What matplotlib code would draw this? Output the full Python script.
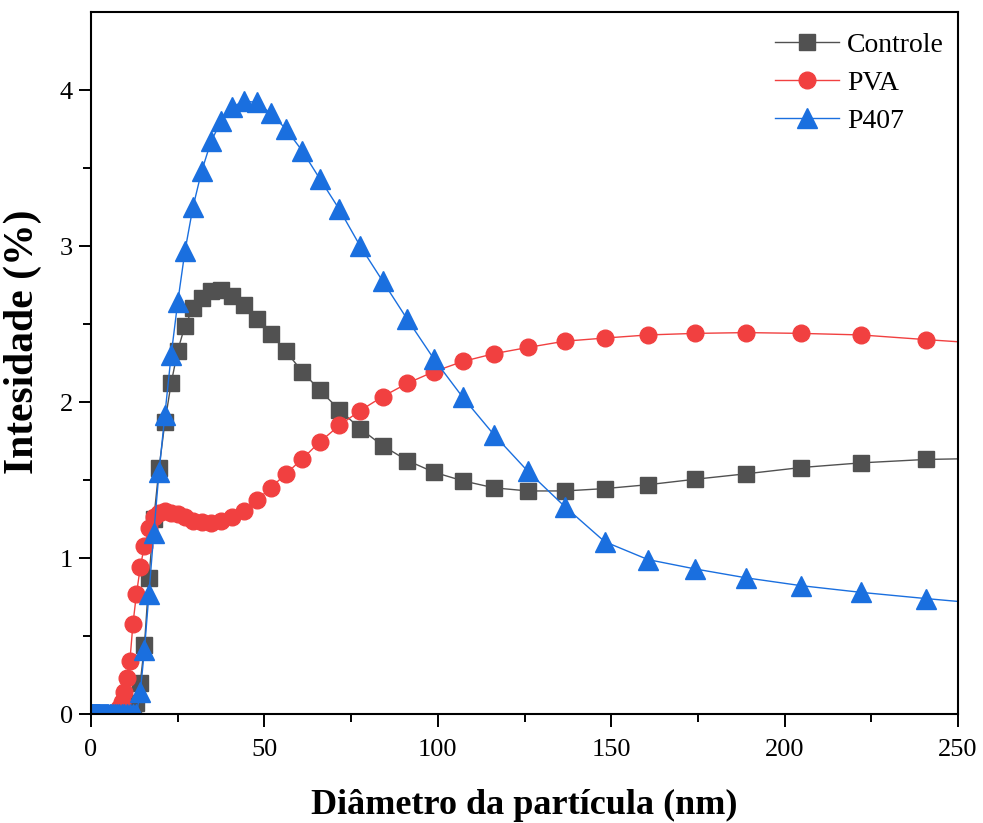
import numpy as np
import matplotlib
matplotlib.use('Agg')
import matplotlib.pyplot as plt

# particle diameter grid (nm), shared by the three samples
diam = [0.4, 0.43, 0.47, 0.51, 0.55, 0.6, 0.65, 0.71, 0.77, 0.83,
        0.9, 0.98, 1.06, 1.15, 1.25, 1.35, 1.5, 1.6, 1.75, 1.9,
        2.05, 2.2, 2.4, 2.6, 2.85, 3.1, 3.35, 3.6, 3.9, 4.25,
        4.6, 5.0, 5.4, 5.9, 6.4, 6.9, 7.5, 8.1, 8.8, 9.5,
        10.3, 11.2, 12.1, 13.1, 14.2, 15.4, 16.7, 18.1, 19.6, 21.3,
        23.1, 25.0, 27.1, 29.4, 31.9, 34.6, 37.5, 40.7, 44.1, 47.8,
        51.8, 56.2, 60.9, 66.0, 71.6, 77.6, 84.1, 91.2, 98.9, 107.2,
        116.2, 126.0, 136.6, 148.1, 160.6, 174.2, 188.9, 204.7, 222.0, 240.8,
        261.0]

controle = [0, 0, 0, 0, 0, 0, 0, 0, 0, 0,
            0, 0, 0, 0, 0, 0, 0, 0, 0, 0,
            0, 0, 0, 0, 0, 0, 0, 0, 0, 0,
            0, 0, 0, 0, 0, 0, 0, 0, 0, 0,
            0, 0, 0.01, 0.07, 0.20, 0.44, 0.87, 1.25, 1.575, 1.87,
            2.12, 2.33, 2.49, 2.60, 2.67, 2.71, 2.72, 2.68, 2.62, 2.535,
            2.435, 2.325, 2.195, 2.075, 1.95, 1.83, 1.72, 1.625, 1.55, 1.495,
            1.45, 1.43, 1.43, 1.445, 1.47, 1.505, 1.54, 1.58, 1.61, 1.632,
            1.64]

pva = [0, 0, 0, 0, 0, 0, 0, 0, 0, 0,
       0, 0, 0, 0, 0, 0, 0, 0, 0, 0,
       0, 0, 0, 0, 0, 0, 0, 0, 0, 0,
       0, 0, 0, 0, 0, 0, 0.01, 0.04, 0.08, 0.14,
       0.23, 0.34, 0.58, 0.77, 0.94, 1.08, 1.19, 1.26, 1.29, 1.30,
       1.29, 1.28, 1.26, 1.24, 1.23, 1.225, 1.24, 1.26, 1.30, 1.37,
       1.45, 1.54, 1.635, 1.745, 1.85, 1.945, 2.035, 2.12, 2.195, 2.26,
       2.31, 2.35, 2.39, 2.41, 2.43, 2.44, 2.445, 2.44, 2.43, 2.40,
       2.37]

p407 = [0, 0, 0, 0, 0, 0, 0, 0, 0, 0,
        0, 0, 0, 0, 0, 0, 0, 0, 0, 0,
        0, 0, 0, 0, 0, 0, 0, 0, 0, 0,
        0, 0, 0, 0, 0, 0, 0, 0, 0, 0,
        0, 0, 0, 0, 0.14, 0.41, 0.77, 1.16, 1.55, 1.92,
        2.30, 2.64, 2.97, 3.25, 3.48, 3.67, 3.80, 3.89, 3.93, 3.92,
        3.85, 3.75, 3.61, 3.43, 3.235, 3.00, 2.775, 2.53, 2.275, 2.03,
        1.79, 1.555, 1.33, 1.105, 0.99, 0.93, 0.873, 0.823, 0.78, 0.74,
        0.70]

plt.rcParams['font.family'] = ['Liberation Serif', 'DejaVu Serif']

fig = plt.figure(figsize=(9.83, 8.23), dpi=100)
ax = fig.add_axes([0.0926, 0.1324, 0.882, 0.853])

ax.plot(diam, controle, color='#515151', marker='s', ms=11, lw=1.0,
        mec='#515151', label='Controle')
ax.plot(diam, pva, color='#F14040', marker='o', ms=12, lw=1.0,
        mec='#F14040', label='PVA')
ax.plot(diam, p407, color='#1A6FDF', marker='^', ms=14, lw=1.0,
        mec='#1A6FDF', label='P407')

ax.set_xlim(0, 250)
ax.set_ylim(0, 4.5)
ax.set_xticks([0, 50, 100, 150, 200, 250])
ax.set_xticks(np.arange(25, 250, 50), minor=True)
ax.set_yticks([0, 1, 2, 3, 4])
ax.set_yticks(np.arange(0.5, 4.5, 1.0), minor=True)
ax.tick_params(which='major', direction='out', length=9, width=1.4,
               labelsize=19)
ax.tick_params(axis='x', which='major', pad=9)
ax.tick_params(axis='y', which='major', pad=4)
ax.tick_params(which='minor', direction='out', length=5.5, width=1.4)
for s in ax.spines.values():
    s.set_linewidth(1.5)

ax.set_xlabel('Diâmetro da partícula (nm)', fontsize=26, fontweight='bold',
              labelpad=20)
ax.set_ylabel('Intesidade (%)', fontsize=30, fontweight='bold')
ax.yaxis.set_label_coords(-0.057, 0.531)

ax.legend(loc='upper right', bbox_to_anchor=(1.0, 0.991), frameon=False,
          fontsize=20, handlelength=2.3, handletextpad=0.3,
          labelspacing=0.45, borderaxespad=0.1, borderpad=0.4)

fig.savefig('out.png', dpi=100)
